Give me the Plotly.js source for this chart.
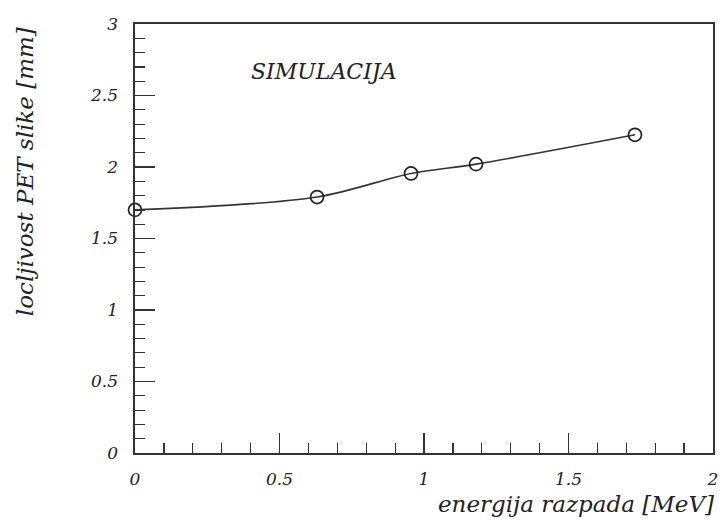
<!DOCTYPE html>
<html>
<head>
<meta charset="utf-8">
<script src="https://cdn.plot.ly/plotly-3.0.1.min.js"></script>
<style>
  html, body { margin: 0; padding: 0; background: #fff; }
  #chart { width: 720px; height: 523px; }
</style>
</head>
<body>
<div id="chart"></div>
<script>
// Decay energy of the positron emitter vs. PET image resolution (simulation)
const energyMeV = [0, 0.63, 0.955, 1.18, 1.73];
const resolutionMm = [1.70, 1.79, 1.955, 2.02, 2.225];

const xTickVals = [0, 0.5, 1, 1.5, 2];
const yTickVals = [0, 0.5, 1, 1.5, 2, 2.5, 3];

const serif = "DejaVu Serif";
const ink = "#222";

const trace = {
  x: energyMeV,
  y: resolutionMm,
  mode: "lines+markers",
  line: { shape: "spline", smoothing: 0.9, color: "#333", width: 1.6 },
  marker: { symbol: "circle-open", size: 13, color: ink, line: { width: 1.7, color: ink } },
  cliponaxis: false,
  hoverinfo: "skip"
};

const axisCommon = {
  showgrid: false,
  zeroline: false,
  showline: true,
  mirror: true,
  linecolor: "#333",
  linewidth: 1.6,
  ticks: "inside",
  ticklen: 20,
  tickwidth: 1.4,
  tickcolor: "#333",
  tickfont: { family: serif, size: 17, color: ink, style: "italic" },
  minor: { dtick: 0.1, ticks: "inside", ticklen: 10, tickwidth: 1.2, tickcolor: "#333", showgrid: false },
  fixedrange: true
};

const layout = {
  width: 720,
  height: 523,
  margin: { l: 135, r: 7, t: 24, b: 70 },
  paper_bgcolor: "#fff",
  plot_bgcolor: "#fff",
  showlegend: false,
  xaxis: Object.assign({}, axisCommon, {
    range: [0, 2],
    tickvals: xTickVals,
    ticktext: xTickVals.map(String),
    ticklabelstandoff: 10
  }),
  yaxis: Object.assign({}, axisCommon, {
    range: [0, 3],
    tickvals: yTickVals,
    ticktext: yTickVals.map(String),
    ticklabelstandoff: 12
  }),
  annotations: [
    {
      text: "SIMULACIJA",
      xref: "paper", yref: "paper",
      x: 0.197, y: 0.89,
      xanchor: "left", yanchor: "middle",
      showarrow: false,
      font: { family: serif, size: 22, color: ink, style: "italic" }
    },
    {
      text: "energija razpada [MeV]",
      xref: "paper", yref: "paper",
      x: 1.006, y: -0.12,
      xanchor: "right", yanchor: "middle",
      showarrow: false,
      font: { family: serif, size: 23, color: ink, style: "italic" }
    },
    {
      text: "locljivost PET slike [mm]",
      xref: "paper", yref: "paper",
      x: -0.19, y: 0.655,
      xanchor: "center", yanchor: "middle",
      textangle: -90,
      showarrow: false,
      font: { family: serif, size: 23, color: ink, style: "italic" }
    }
  ]
};

Plotly.newPlot("chart", [trace], layout, { staticPlot: true, displayModeBar: false });
</script>
</body>
</html>
